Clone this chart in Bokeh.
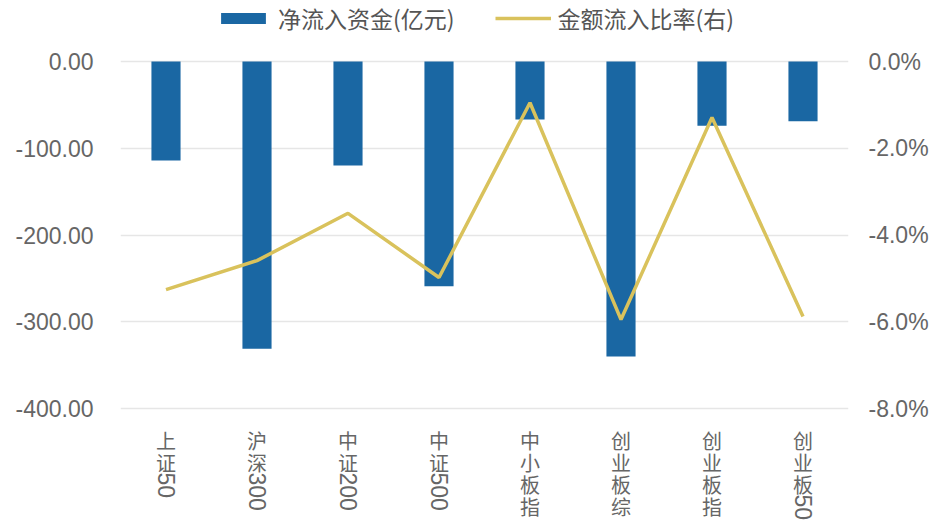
import math
import re
from bokeh.plotting import figure
from bokeh.models import (Range1d, LinearAxis, FixedTicker, PrintfTickFormatter,
                          Legend, LegendItem, Label, FactorRange, ColumnDataSource)
from bokeh.embed import file_html
from bokeh.resources import INLINE

categories = ["上证50", "沪深300", "中证200", "中证500", "中小板指", "创业板综", "创业板指", "创业板50"]
net_inflow = [-114, -331, -120, -259, -67, -340, -74, -69]
inflow_ratio = [-5.26, -4.59, -3.50, -4.98, -0.95, -5.95, -1.29, -5.88]
left_ticks = [-400, -300, -200, -100, 0]
right_ticks = [-8, -6, -4, -2, 0]
series_names = ["净流入资金(亿元)", "金额流入比率(右)"]

BAR_COLOR = "#1a67a3"
LINE_COLOR = "#d9c25c"
TEXT_COLOR = "#666666"

W, H = 948, 525
AXIS_TOP_PX, AXIS_BOTTOM_PX = 61, 408   # where 0 and the lowest tick sit
left_lo, left_hi = min(left_ticks), max(left_ticks)
right_lo, right_hi = min(right_ticks), max(right_ticks)
lpx = (AXIS_BOTTOM_PX - AXIS_TOP_PX) / (left_hi - left_lo)
rpx = (AXIS_BOTTOM_PX - AXIS_TOP_PX) / (right_hi - right_lo)
y_left = Range1d(left_lo - (H - AXIS_BOTTOM_PX) / lpx, left_hi + AXIS_TOP_PX / lpx)
y_right = Range1d(right_lo - (H - AXIS_BOTTOM_PX) / rpx, right_hi + AXIS_TOP_PX / rpx)

src = ColumnDataSource(dict(cat=categories, net=net_inflow, ratio=inflow_ratio))

p = figure(x_range=FactorRange(*categories), y_range=y_left,
           width=W, height=H, output_backend="svg", toolbar_location=None,
           min_border_left=120, min_border_right=100, min_border_top=0, min_border_bottom=0)
p.outline_line_color = None
p.background_fill_color = "white"
p.border_fill_color = "white"

p.extra_y_ranges = {"pct": y_right}

bars = p.vbar(x="cat", top=0, bottom="net", width=0.32, source=src,
              fill_color=BAR_COLOR, line_color=None)
line = p.line(x="cat", y="ratio", source=src, y_range_name="pct",
              line_color=LINE_COLOR, line_width=3.5)

# left axis
ya = p.yaxis[0]
ya.ticker = FixedTicker(ticks=left_ticks)
ya.formatter = PrintfTickFormatter(format="%.2f")
ya.axis_line_color = None
ya.major_tick_line_color = None
ya.minor_tick_line_color = None
ya.major_tick_out = 0
ya.major_label_standoff = 27
ya.major_label_text_font = "Liberation Sans"
ya.major_label_text_font_size = "23px"
ya.major_label_text_color = TEXT_COLOR

# right axis
ra = LinearAxis(y_range_name="pct", ticker=FixedTicker(ticks=right_ticks),
                formatter=PrintfTickFormatter(format="%.1f%%"))
ra.axis_line_color = None
ra.major_tick_line_color = None
ra.minor_tick_line_color = None
ra.major_tick_out = 0
ra.major_label_standoff = 20
ra.major_label_text_font = "Liberation Sans"
ra.major_label_text_font_size = "23px"
ra.major_label_text_color = TEXT_COLOR
p.add_layout(ra, "right")

p.xaxis.visible = False
p.xgrid.grid_line_color = None
p.ygrid.ticker = FixedTicker(ticks=left_ticks)
p.ygrid.grid_line_color = "#e6e6e6"
p.ygrid.grid_line_width = 1.5

# vertical category labels (factor i sits at synthetic coordinate i + 0.5)
for i, cat in enumerate(categories):
    xc = i + 0.5
    parts = re.findall(r"[0-9]+|[^0-9]", cat)
    off = 17
    for part in parts:
        if part.isdigit():
            p.add_layout(Label(x=xc, y=left_lo, y_offset=-(off + 3), text=part,
                               angle=-math.pi / 2, text_align="left", text_baseline="middle",
                               text_font="Liberation Sans", text_font_size="23px",
                               text_color=TEXT_COLOR))
        else:
            p.add_layout(Label(x=xc, y=left_lo, y_offset=-off, text=part,
                               text_align="center", text_baseline="top",
                               text_font="Noto Sans CJK SC", text_font_size="20px",
                               text_color=TEXT_COLOR))
            off += 22

legend = Legend(items=[LegendItem(label=series_names[0], renderers=[bars]),
                       LegendItem(label=series_names[1], renderers=[line])],
                orientation="horizontal", location=(95, H - 35),
                glyph_width=56, glyph_height=14, label_standoff=7, spacing=40,
                padding=0, margin=0, border_line_color=None, background_fill_alpha=0,
                label_text_font="Noto Sans CJK SC", label_text_font_size="23px",
                label_text_color="#555555")
p.add_layout(legend)

open("out.html", "w").write(file_html(p, INLINE))
